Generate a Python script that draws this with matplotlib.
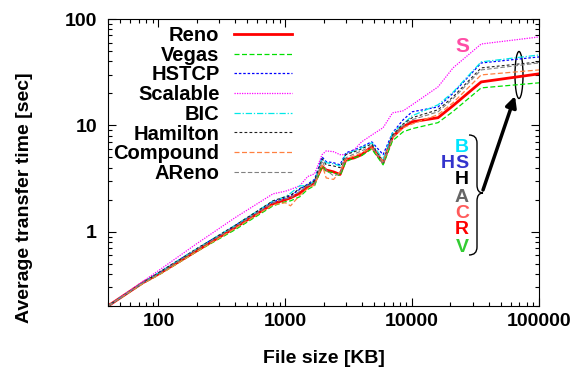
import matplotlib
matplotlib.use("Agg")
import matplotlib.pyplot as plt
from matplotlib.patches import Ellipse, PathPatch
from matplotlib.path import Path

plt.rcParams['font.family'] = ['Liberation Sans', 'DejaVu Sans']
plt.rcParams['font.weight'] = 'bold'

# file sizes [KB]
file_size = [40, 75, 100, 200, 400, 800, 1000, 1100, 1300, 1500, 1700, 1950, 2100,
             2400, 2700, 3000, 3500, 4000, 4800, 5900, 7000, 8500, 10000, 16000,
             21000, 35000, 100000]

# average transfer time [sec]
reno = [0.2, 0.33, 0.40, 0.66, 1.09, 1.83, 2.0, 2.08, 2.3, 2.65, 2.9, 4.1, 3.8,
        3.65, 3.45, 4.75, 4.95, 5.3, 6.3, 4.45, 7.8, 9.7, 10.8, 11.8,
        15.3, 25.6, 30.5]
vegas = [0.2, 0.325, 0.39, 0.65, 1.04, 1.75, 1.91, 1.95, 2.13, 2.5, 2.7, 4.15, 3.65,
         3.6, 3.35, 4.55, 4.95, 5.2, 6.0, 4.25, 7.15, 8.7, 9.3, 10.6,
         13.5, 22.5, 25.1]
hstcp = [0.2, 0.33, 0.41, 0.69, 1.14, 1.91, 2.08, 2.18, 2.5, 2.8, 3.1, 5.05, 4.55,
         4.45, 4.25, 5.5, 5.9, 6.3, 7.0, 5.3, 8.5, 11.3, 13.4, 14.9,
         20.0, 38.6, 44.0]
scalable = [0.2, 0.34, 0.43, 0.77, 1.35, 2.27, 2.4, 2.5, 2.7, 3.3, 3.5, 5.3, 5.75,
            5.65, 5.3, 5.3, 5.9, 7.0, 8.1, 9.5, 13.1, 13.7, 15.6, 23.0,
            34.7, 58.2, 67.8]
bic = [0.2, 0.33, 0.41, 0.69, 1.14, 1.95, 2.13, 2.3, 2.7, 2.7, 3.0, 4.85, 4.45,
       4.35, 4.15, 5.4, 5.75, 6.15, 6.85, 4.75, 8.5, 10.3, 12.3, 15.6,
       20.5, 39.5, 45.9]
hamilton = [0.2, 0.33, 0.41, 0.69, 1.14, 1.95, 2.13, 2.2, 2.55, 2.75, 3.0, 4.85, 4.25,
            4.15, 4.0, 5.3, 5.65, 6.0, 6.7, 4.45, 8.1, 10.3, 11.8, 14.0,
            18.5, 34.7, 39.5]
compound = [0.2, 0.325, 0.39, 0.65, 1.07, 1.79, 1.87, 1.75, 2.2, 2.55, 2.75, 4.25, 3.2,
            3.1, 3.65, 4.75, 5.2, 5.5, 6.15, 4.55, 7.6, 9.5, 10.3, 12.6,
            16.3, 29.8, 33.2]
areno = [0.2, 0.33, 0.40, 0.68, 1.11, 1.87, 2.04, 2.08, 2.4, 2.7, 2.8, 4.65, 3.8,
         3.35, 3.5, 4.95, 5.4, 5.75, 6.4, 4.35, 7.8, 9.9, 11.3, 13.4,
         17.8, 33.2, 38.6]

series = [
    ("Reno", reno, "#ff0000", "-", 2.0),
    ("Vegas", vegas, "#00e000", (0, (4, 2)), 0.9),
    ("HSTCP", hstcp, "#0000ff", (0, (2, 1.5)), 0.9),
    ("Scalable", scalable, "#ff00ff", (0, (1, 1)), 0.9),
    ("BIC", bic, "#00e8e8", (0, (5, 1.5, 1, 1.5)), 0.9),
    ("Hamilton", hamilton, "#202020", (0, (2.5, 2)), 0.8),
    ("Compound", compound, "#ff8040", (0, (4, 2)), 0.9),
    ("AReno", areno, "#808080", (0, (4, 2)), 0.8),
]

W, H = 576, 370
fig = plt.figure(figsize=(W / 100, H / 100), dpi=100)
ax = fig.add_axes([108 / W, 1 - 306 / H, 431 / W, 287 / H])

for name, vals, col, ls, lw in series:
    ax.plot(file_size, vals, color=col, linestyle=ls, linewidth=lw, label=name)

ax.set_xscale('log')
ax.set_yscale('log')
ax.set_xlim(40, 100000)
ax.set_ylim(0.2, 100)
ax.set_xticks([100, 1000, 10000, 100000])
ax.set_xticklabels(['100', '1000', '10000', '100000'])
ax.set_yticks([1, 10, 100])
ax.set_yticklabels(['1', '10', '100'])
ax.tick_params(which='both', direction='in', top=True, right=True, labelsize=14)
ax.tick_params(which='major', length=6, width=0.8)
ax.tick_params(which='minor', length=3, width=0.8)
ax.tick_params(axis='y', pad=8)
ax.tick_params(axis='x', pad=5)

ax.set_xlabel("File size [KB]", fontsize=14, fontweight='bold')
ax.xaxis.set_label_coords(0.5, -0.155)
ax.set_ylabel("Average transfer time [sec]", fontsize=14, fontweight='bold')
ax.yaxis.set_label_coords(-0.175, 0.376)

leg = ax.legend(loc='upper right', bbox_to_anchor=(292 / W, 1 - 26 / H),
                bbox_transform=fig.transFigure, frameon=False, markerfirst=False,
                alignment='right', fontsize=14.5, handlelength=2.9,
                handletextpad=0.7, labelspacing=0.035, borderpad=0, borderaxespad=0)

# annotations, positions in figure pixels
def px(x, y):
    return ((x - 108) / 431, (306 - y) / 287)

ax.text(*px(462, 47), "S", transform=ax.transAxes, color="#ff4da6",
        fontsize=15, fontweight='bold', ha='center', va='center')
letters = [("B", "#00e5ff", 147), ("S", "#3333cc", 163), ("H", "#000000", 180),
           ("A", "#666666", 197), ("C", "#ff5a5a", 213), ("R", "#ff0000", 230),
           ("V", "#33cc33", 247)]
for ch, col, yy in letters:
    ax.text(*px(462, yy), ch, transform=ax.transAxes, color=col,
            fontsize=14, fontweight='bold', ha='center', va='center')
ax.text(*px(448, 163), "H", transform=ax.transAxes, color="#3333cc",
        fontsize=14, fontweight='bold', ha='center', va='center')

# curly brace
top, mid, bot, xb = 135, 193, 255, 477
verts = [(469, top), (477, top), (xb, top + 8), (xb, mid - 8), (xb, mid), (483, mid),
         (xb, mid), (xb, mid + 8), (xb, bot - 8), (477, bot), (469, bot)]
codes = [Path.MOVETO, Path.CURVE3, Path.CURVE3, Path.LINETO, Path.CURVE3, Path.CURVE3,
         Path.CURVE3, Path.CURVE3, Path.LINETO, Path.CURVE3, Path.CURVE3]
brace = Path([px(*v) for v in verts], codes)
ax.add_patch(PathPatch(brace, transform=ax.transAxes, fill=False, lw=1.0,
                       color='black', clip_on=False))

# arrow and ellipse
ax.annotate("", xy=px(515, 96), xytext=px(483, 190), xycoords='axes fraction',
            textcoords='axes fraction',
            arrowprops=dict(arrowstyle='-|>', lw=2.5, color='black',
                            mutation_scale=16, shrinkA=0, shrinkB=0))
ax.add_patch(Ellipse(px(519, 75), 8 / 431, 47 / 287, transform=ax.transAxes,
                     fill=False, lw=1.0, color='black'))

fig.savefig("out.png", dpi=100)
